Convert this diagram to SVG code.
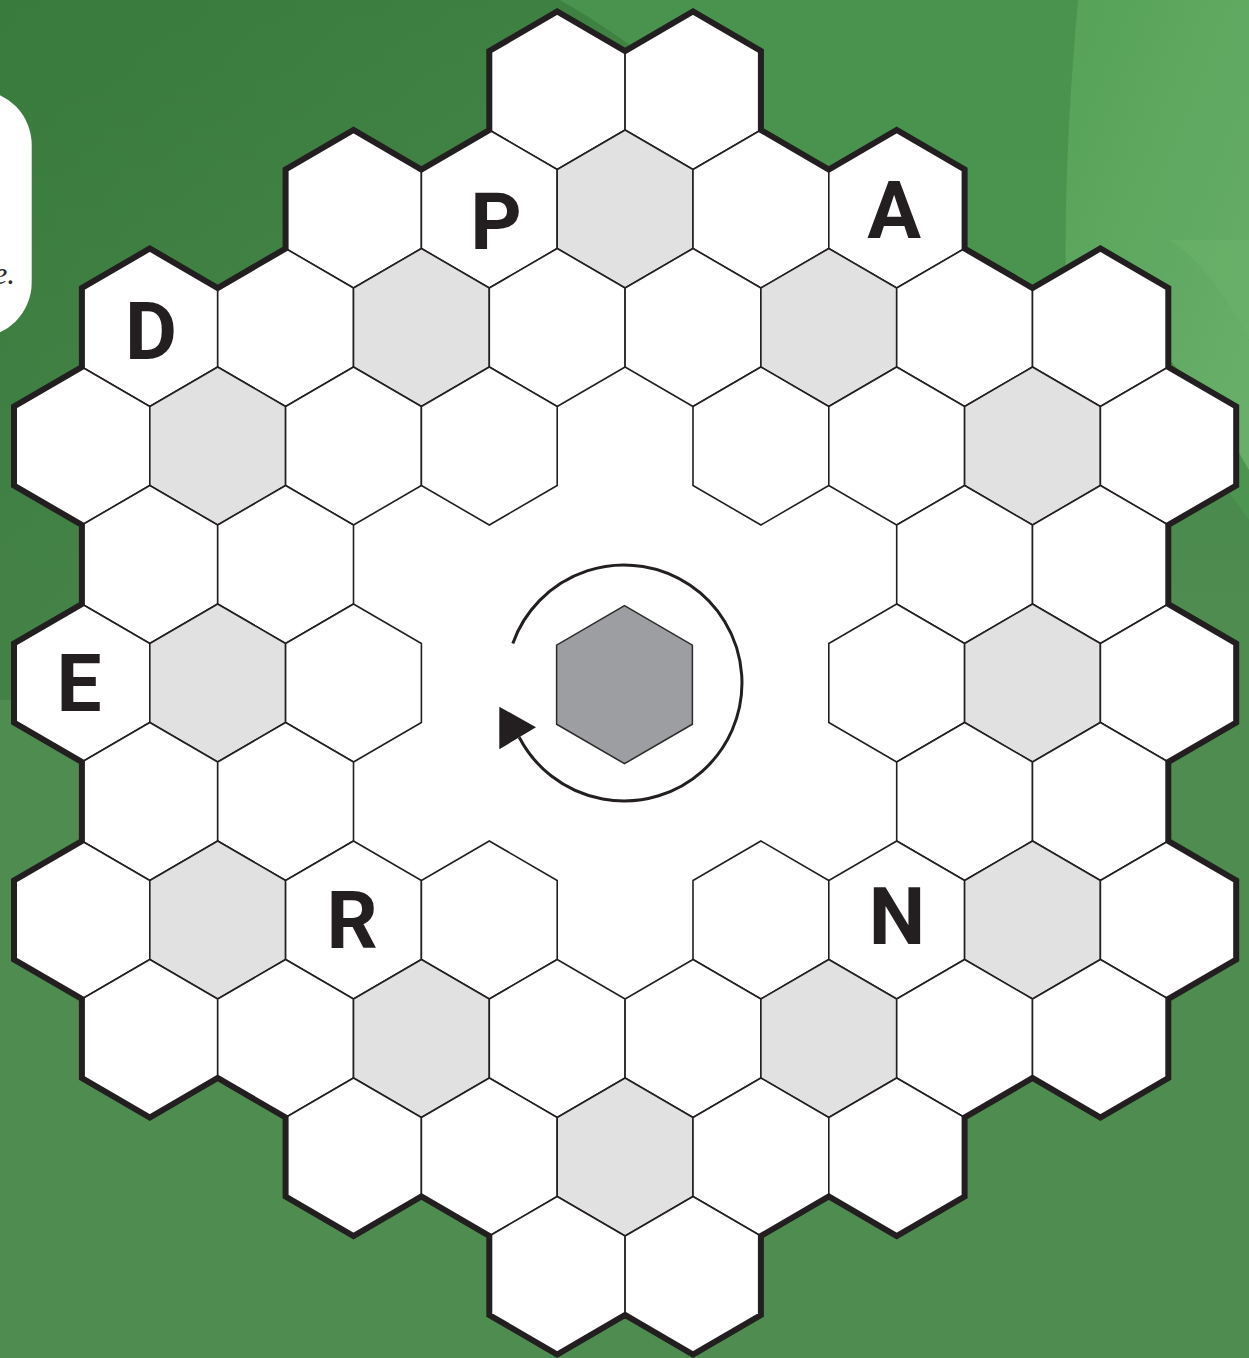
<svg xmlns="http://www.w3.org/2000/svg" xmlns:xlink="http://www.w3.org/1999/xlink" width="1249" height="1358" viewBox="0 0 1249 1358">
  <style>
    .cell { fill: #ffffff; stroke: #231f20; stroke-width: 1.6; stroke-linejoin: miter; }
    .shade { fill: #e1e1e1; }
    .letter { font-family: Roboto, "Liberation Sans", sans-serif; font-weight: 700; font-size: 80px; fill: #231f20; text-anchor: middle; }
    .border { fill: none; stroke: #231f20; stroke-width: 6; stroke-linejoin: miter; stroke-miterlimit: 10; }
  </style>
  <defs>
    <polygon id="hex" points="0,-79 67.9,-39.5 67.9,39.5 0,79 -67.9,39.5 -67.9,-39.5"/>
    <path id="outline" d="M489.3,51 L557.2,11.5 L625.1,51 L693,11.5 L760.9,51 L760.9,130 L828.8,169.5 L896.7,130 L964.6,169.5 L964.6,248.5 L1032.5,288 L1100.4,248.5 L1168.3,288 L1168.3,367 L1236.2,406.5 L1236.2,485.5 L1168.3,525 L1168.3,604 L1236.2,643.5 L1236.2,722.5 L1168.3,762 L1168.3,841 L1236.2,880.5 L1236.2,959.5 L1168.3,999 L1168.3,1078 L1100.4,1117.5 L1032.5,1078 L964.6,1117.5 L964.6,1196.5 L896.7,1236 L828.8,1196.5 L760.9,1236 L760.9,1315 L693,1354.5 L625.1,1315 L557.2,1354.5 L489.3,1315 L489.3,1236 L421.4,1196.5 L353.5,1236 L285.6,1196.5 L285.6,1117.5 L217.7,1078 L149.8,1117.5 L81.9,1078 L81.9,999 L14,959.5 L14,880.5 L81.9,841 L81.9,762 L14,722.5 L14,643.5 L81.9,604 L81.9,525 L14,485.5 L14,406.5 L81.9,367 L81.9,288 L149.8,248.5 L217.7,288 L285.6,248.5 L285.6,169.5 L353.5,130 L421.4,169.5 L489.3,130 Z"/>
    <linearGradient id="bgTop" x1="0" y1="0" x2="0" y2="1">
      <stop offset="0" stop-color="#3c8040" stop-opacity="0.9"/>
      <stop offset="0.45" stop-color="#3c8040" stop-opacity="0"/>
    </linearGradient>
    <linearGradient id="bgLeft" x1="0" y1="0" x2="1" y2="0">
      <stop offset="0" stop-color="#2f6e33" stop-opacity="0.35"/>
      <stop offset="0.5" stop-color="#2f6e33" stop-opacity="0"/>
    </linearGradient>
    <linearGradient id="light" x1="0" y1="0" x2="1" y2="1">
      <stop offset="0" stop-color="#58a55b"/>
      <stop offset="1" stop-color="#6fb46f"/>
    </linearGradient>
  </defs>

  <g id="background">
    <rect x="0" y="0" width="1249" height="1358" fill="#4e8c50"/>
    <rect x="0" y="0" width="1249" height="1358" fill="url(#bgTop)"/>
    <rect x="0" y="0" width="1249" height="700" fill="url(#bgLeft)"/>
    <path d="M560,0 L1249,0 L1249,520 C1150,380 1050,300 900,260 C800,200 700,80 560,0 Z" fill="#4c9751" opacity="0.8"/>
    <path d="M1078,0 L1249,0 L1249,470 C1200,380 1130,310 1066,285 C1064,190 1070,90 1078,0 Z" fill="url(#light)" opacity="0.85"/>
    <path d="M1249,340 C1230,300 1200,260 1170,240 L1249,240 Z" fill="#6ab06b" opacity="0.6"/>
  </g>

  <g id="side-panel">
    <rect x="-80" y="90" width="111.7" height="247.5" rx="55" ry="55" fill="#ffffff"/>
    <text x="15" y="284" font-family="'Liberation Serif', serif" font-style="italic" font-size="31" fill="#2b2b2b" text-anchor="end">e.</text>
  </g>

  <g id="board-base">
    <use href="#outline" fill="#ffffff"/>
  </g>

  <g id="cells">
    <!-- row 0 -->
    <g id="cell-r0-c8"><use href="#hex" x="557.2" y="90.5" class="cell"/></g>
    <g id="cell-r0-c10"><use href="#hex" x="693" y="90.5" class="cell"/></g>
    <!-- row 1 -->
    <g id="cell-r1-c5"><use href="#hex" x="353.5" y="209" class="cell"/></g>
    <g id="cell-r1-c7"><use href="#hex" x="489.3" y="209" class="cell"/><text class="letter" x="496" y="249">P</text></g>
    <g id="cell-r1-c9"><use href="#hex" x="625.1" y="209" class="cell shade"/></g>
    <g id="cell-r1-c11"><use href="#hex" x="760.9" y="209" class="cell"/></g>
    <g id="cell-r1-c13"><use href="#hex" x="896.7" y="209" class="cell"/><text class="letter" x="894" y="238">A</text></g>
    <!-- row 2 -->
    <g id="cell-r2-c2"><use href="#hex" x="149.8" y="327.5" class="cell"/><text class="letter" x="151" y="359">D</text></g>
    <g id="cell-r2-c4"><use href="#hex" x="285.6" y="327.5" class="cell"/></g>
    <g id="cell-r2-c6"><use href="#hex" x="421.4" y="327.5" class="cell shade"/></g>
    <g id="cell-r2-c8"><use href="#hex" x="557.2" y="327.5" class="cell"/></g>
    <g id="cell-r2-c10"><use href="#hex" x="693" y="327.5" class="cell"/></g>
    <g id="cell-r2-c12"><use href="#hex" x="828.8" y="327.5" class="cell shade"/></g>
    <g id="cell-r2-c14"><use href="#hex" x="964.6" y="327.5" class="cell"/></g>
    <g id="cell-r2-c16"><use href="#hex" x="1100.4" y="327.5" class="cell"/></g>
    <!-- row 3 -->
    <g id="cell-r3-c1"><use href="#hex" x="81.9" y="446" class="cell"/></g>
    <g id="cell-r3-c3"><use href="#hex" x="217.7" y="446" class="cell shade"/></g>
    <g id="cell-r3-c5"><use href="#hex" x="353.5" y="446" class="cell"/></g>
    <g id="cell-r3-c7"><use href="#hex" x="489.3" y="446" class="cell"/></g>
    <g id="cell-r3-c11"><use href="#hex" x="760.9" y="446" class="cell"/></g>
    <g id="cell-r3-c13"><use href="#hex" x="896.7" y="446" class="cell"/></g>
    <g id="cell-r3-c15"><use href="#hex" x="1032.5" y="446" class="cell shade"/></g>
    <g id="cell-r3-c17"><use href="#hex" x="1168.3" y="446" class="cell"/></g>
    <!-- row 4 -->
    <g id="cell-r4-c2"><use href="#hex" x="149.8" y="564.5" class="cell"/></g>
    <g id="cell-r4-c4"><use href="#hex" x="285.6" y="564.5" class="cell"/></g>
    <g id="cell-r4-c14"><use href="#hex" x="964.6" y="564.5" class="cell"/></g>
    <g id="cell-r4-c16"><use href="#hex" x="1100.4" y="564.5" class="cell"/></g>
    <!-- row 5 -->
    <g id="cell-r5-c1"><use href="#hex" x="81.9" y="683" class="cell"/><text class="letter" x="79" y="711">E</text></g>
    <g id="cell-r5-c3"><use href="#hex" x="217.7" y="683" class="cell shade"/></g>
    <g id="cell-r5-c5"><use href="#hex" x="353.5" y="683" class="cell"/></g>
    <g id="cell-r5-c13"><use href="#hex" x="896.7" y="683" class="cell"/></g>
    <g id="cell-r5-c15"><use href="#hex" x="1032.5" y="683" class="cell shade"/></g>
    <g id="cell-r5-c17"><use href="#hex" x="1168.3" y="683" class="cell"/></g>
    <!-- row 6 -->
    <g id="cell-r6-c2"><use href="#hex" x="149.8" y="801.5" class="cell"/></g>
    <g id="cell-r6-c4"><use href="#hex" x="285.6" y="801.5" class="cell"/></g>
    <g id="cell-r6-c14"><use href="#hex" x="964.6" y="801.5" class="cell"/></g>
    <g id="cell-r6-c16"><use href="#hex" x="1100.4" y="801.5" class="cell"/></g>
    <!-- row 7 -->
    <g id="cell-r7-c1"><use href="#hex" x="81.9" y="920" class="cell"/></g>
    <g id="cell-r7-c3"><use href="#hex" x="217.7" y="920" class="cell shade"/></g>
    <g id="cell-r7-c5"><use href="#hex" x="353.5" y="920" class="cell"/><text class="letter" x="352" y="948">R</text></g>
    <g id="cell-r7-c7"><use href="#hex" x="489.3" y="920" class="cell"/></g>
    <g id="cell-r7-c11"><use href="#hex" x="760.9" y="920" class="cell"/></g>
    <g id="cell-r7-c13"><use href="#hex" x="896.7" y="920" class="cell"/><text class="letter" x="897" y="944">N</text></g>
    <g id="cell-r7-c15"><use href="#hex" x="1032.5" y="920" class="cell shade"/></g>
    <g id="cell-r7-c17"><use href="#hex" x="1168.3" y="920" class="cell"/></g>
    <!-- row 8 -->
    <g id="cell-r8-c2"><use href="#hex" x="149.8" y="1038.5" class="cell"/></g>
    <g id="cell-r8-c4"><use href="#hex" x="285.6" y="1038.5" class="cell"/></g>
    <g id="cell-r8-c6"><use href="#hex" x="421.4" y="1038.5" class="cell shade"/></g>
    <g id="cell-r8-c8"><use href="#hex" x="557.2" y="1038.5" class="cell"/></g>
    <g id="cell-r8-c10"><use href="#hex" x="693" y="1038.5" class="cell"/></g>
    <g id="cell-r8-c12"><use href="#hex" x="828.8" y="1038.5" class="cell shade"/></g>
    <g id="cell-r8-c14"><use href="#hex" x="964.6" y="1038.5" class="cell"/></g>
    <g id="cell-r8-c16"><use href="#hex" x="1100.4" y="1038.5" class="cell"/></g>
    <!-- row 9 -->
    <g id="cell-r9-c5"><use href="#hex" x="353.5" y="1157" class="cell"/></g>
    <g id="cell-r9-c7"><use href="#hex" x="489.3" y="1157" class="cell"/></g>
    <g id="cell-r9-c9"><use href="#hex" x="625.1" y="1157" class="cell shade"/></g>
    <g id="cell-r9-c11"><use href="#hex" x="760.9" y="1157" class="cell"/></g>
    <g id="cell-r9-c13"><use href="#hex" x="896.7" y="1157" class="cell"/></g>
    <!-- row 10 -->
    <g id="cell-r10-c8"><use href="#hex" x="557.2" y="1275.5" class="cell"/></g>
    <g id="cell-r10-c10"><use href="#hex" x="693" y="1275.5" class="cell"/></g>
  </g>

  <g id="board-outline">
    <use href="#outline" class="border"/>
  </g>

  <g id="center-hex">
    <use href="#hex" x="624.5" y="684.7" fill="#9d9ea2" stroke="#2b2b2b" stroke-width="1.5"/>
  </g>

  <g id="connectors">
    <path d="M512.8,643.4 A118,118 0 1 1 519.2,737.3" fill="none" stroke="#231f20" stroke-width="3"/>
    <polygon points="499.3,706.7 536,727.3 499.3,749.3" fill="#231f20"/>
  </g>
</svg>
